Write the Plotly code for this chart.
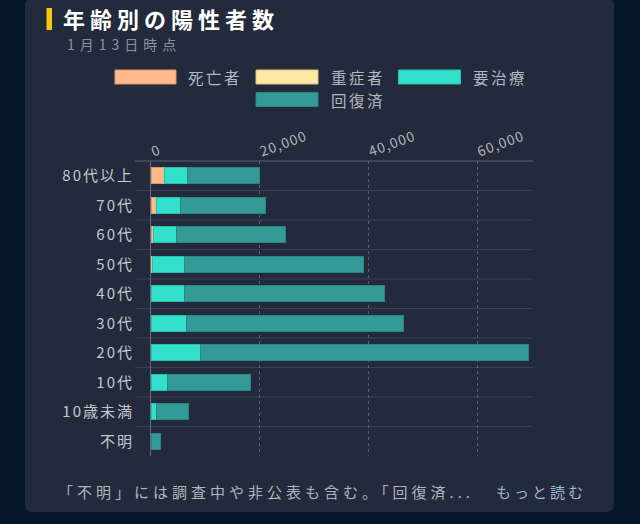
import plotly.graph_objects as go

# ---------------- data ----------------
categories = ["80代以上", "70代", "60代", "50代", "40代", "30代", "20代", "10代", "10歳未満", "不明"]
deaths =     [2300,  800,  300,  100,   30,   10,    5,     0,    0,    0]
severe =     [200,   250,  180,  120,   50,   20,   10,     2,    1,    0]
treatment =  [4300,  4350, 4250, 6020, 6160, 6540, 9185,  2958,  989,   50]
recovered =  [13130, 15750, 20110, 32930, 36740, 39830, 60280, 15380, 5910, 1720]

series_names = ["死亡者", "重症者", "要治療", "回復済"]
series_values = [deaths, severe, treatment, recovered]
series_colors = ["#ffb98a", "#ffe9a3", "#33e0cc", "#349a98"]
series_lines = ["#d99a6c", "#d9c585", "#2cbfad", "#2a8585"]

tick_vals = [0, 20000, 40000, 60000]
tick_text = ["0", "20,000", "40,000", "60,000"]

title_text = "年齢別の陽性者数"
subtitle_text = "1月13日時点"
footer_text = "「不明」には調査中や非公表も含む。「回復済..."
link_text = "もっと読む"

# ---------------- layout geometry (pixels) ----------------
W, H = 640, 524
PL, PR, PT, PB = 151, 533, 161, 456
X_MAX = 70300


def px(x):
    return (x - PL) / (PR - PL)


def py(y):
    return (PB - y) / (PB - PT)


def sp(text, ls):
    return f'<span style="letter-spacing:{ls}px">{text}</span>'


FONT = "Noto Sans CJK JP"
BG_OUTER = "#07172a"
CARD = "#232a3b"

fig = go.Figure()
for name, vals, col, lc in zip(series_names, series_values, series_colors, series_lines):
    fig.add_trace(go.Bar(
        y=categories, x=vals, name=name, orientation="h",
        marker=dict(color=col, line=dict(color=lc, width=1)),
        showlegend=False,
    ))

shapes = []
# card background with rounded corners
cx0, cx1, cy0, cy1, r = 25, 614, -2, 512, 8
rx, ry = r / (PR - PL), r / (PB - PT)
X0, X1, Y0, Y1 = px(cx0), px(cx1), py(cy1), py(cy0)
path = (f"M{X0+rx},{Y0} L{X1-rx},{Y0} Q{X1},{Y0} {X1},{Y0+ry} L{X1},{Y1-ry} Q{X1},{Y1} {X1-rx},{Y1} "
        f"L{X0+rx},{Y1} Q{X0},{Y1} {X0},{Y1-ry} L{X0},{Y0+ry} Q{X0},{Y0} {X0+rx},{Y0} Z")
shapes.append(dict(type="path", path=path, xref="paper", yref="paper",
                   fillcolor=CARD, line=dict(width=0), layer="below"))
# yellow accent bar
shapes.append(dict(type="rect", xref="paper", yref="paper", x0=px(46.5), x1=px(52), y0=py(30), y1=py(8),
                   fillcolor="#f2c811", line=dict(width=0), layer="above"))
# category separators
n = len(categories)
for i in range(1, n):
    yp = 1 - i / n
    shapes.append(dict(type="line", xref="paper", yref="paper", x0=px(135), x1=1, y0=yp, y1=yp,
                       line=dict(color="#394052", width=1), layer="below"))
shapes.append(dict(type="line", xref="paper", yref="paper", x0=px(135), x1=1, y0=1, y1=1,
                   line=dict(color="#5a6070", width=1), layer="below"))

# custom legend
legend_rows = [(0, 115, 176, 186, 77), (1, 256, 318, 328.5, 77), (2, 398.5, 460.5, 470.5, 77), (3, 256, 318, 328.5, 99.5)]
annotations = []
for idx, sx0, sx1, tx, cy in legend_rows:
    shapes.append(dict(type="rect", xref="paper", yref="paper", x0=px(sx0), x1=px(sx1),
                       y0=py(cy + 7), y1=py(cy - 7), fillcolor=series_colors[idx],
                       line=dict(color=series_lines[idx], width=1), layer="above"))
    annotations.append(dict(text=sp(series_names[idx], 2.5), xref="paper", yref="paper",
                            x=px(tx), y=py(cy), xanchor="left", yanchor="middle", showarrow=False,
                            font=dict(family=FONT, size=15.5, color="#b3b7c0")))

annotations.append(dict(text="<b>" + sp(title_text, 5) + "</b>", xref="paper", yref="paper",
                        x=px(61), y=py(18), xanchor="left", yanchor="middle", showarrow=False,
                        font=dict(family=FONT, size=22, color="#ffffff")))
annotations.append(dict(text=sp(subtitle_text, 5), xref="paper", yref="paper",
                        x=px(65), y=py(44), xanchor="left", yanchor="middle", showarrow=False,
                        font=dict(family=FONT, size=14, color="#8b909c")))
annotations.append(dict(text=sp(footer_text, 4), xref="paper", yref="paper",
                        x=px(56), y=py(491), xanchor="left", yanchor="middle", showarrow=False,
                        font=dict(family=FONT, size=15, color="#b0b4bc")))
annotations.append(dict(text=sp(link_text, 3), xref="paper", yref="paper",
                        x=px(494), y=py(491), xanchor="left", yanchor="middle", showarrow=False,
                        font=dict(family=FONT, size=15, color="#9fb6cd")))

fig.update_layout(
    width=W, height=H,
    margin=dict(l=PL, r=W - PR, t=PT, b=H - PB, pad=0),
    paper_bgcolor=BG_OUTER, plot_bgcolor="rgba(0,0,0,0)",
    barmode="stack", bargap=0.46,
    shapes=shapes, annotations=annotations,
    font=dict(family=FONT),
)
fig.update_xaxes(
    side="top", range=[0, X_MAX], tickvals=tick_vals,
    ticktext=[sp(t, 1) for t in tick_text], tickangle=-20,
    tickfont=dict(family=FONT, size=14, color="#aeb2ba"),
    showgrid=True, gridcolor="#5a6070", gridwidth=1, griddash="3px,3px",
    zeroline=False, showline=False, ticks="",
)
fig.update_yaxes(
    type="category", categoryarray=categories, autorange="reversed",
    tickvals=categories, ticktext=[sp(c, 2) for c in categories],
    tickfont=dict(family=FONT, size=15, color="#c2c6cd"),
    showgrid=False, zeroline=False, showline=True, linecolor="#666c7b", linewidth=1,
    ticks="", ticklabelstandoff=13,
)

fig.write_html("out.html")
